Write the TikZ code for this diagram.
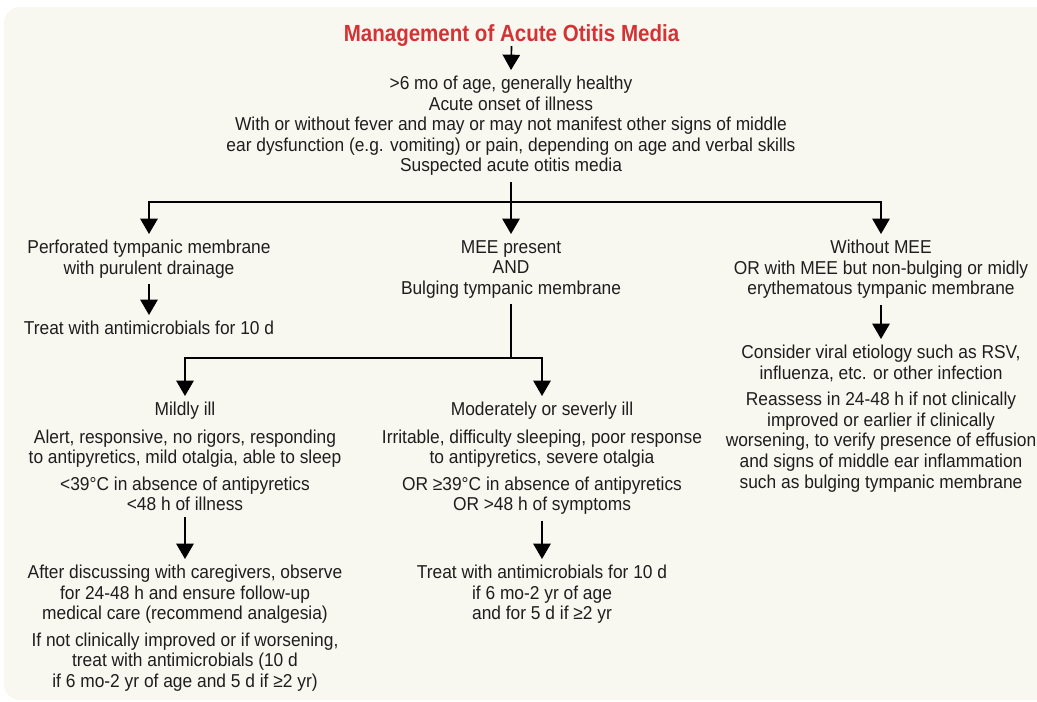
\documentclass[tikz,border=0pt]{standalone}
\usepackage{fontspec}
\setmainfont{Liberation Sans}[FakeStretch=0.93]
\newfontfamily\titlefont{Liberation Sans}[FakeStretch=0.88]
\usetikzlibrary{arrows.meta,calc}
\definecolor{aombg}{RGB}{248,247,240}
\definecolor{aomred}{RGB}{212,50,52}
\definecolor{aomtext}{RGB}{30,30,30}

\begin{document}
\begin{tikzpicture}[
    x=0.75pt, y=-0.75pt,
    txt/.style={align=center, anchor=north, inner xsep=0pt, inner ysep=4.5pt, text=aomtext, font={\fontsize{14}{15.4}\selectfont}},
    ttl/.style={anchor=base, inner sep=0pt, text=aomred, font={\titlefont\fontsize{17.5}{20}\selectfont\bfseries}},
    link/.style={line width=1.25pt, draw=black},
    arrow/.style={link, -{Triangle[width=13pt, length=11.5pt]}}
]
\useasboundingbox (0,0) rectangle (1037,701);

% ═══════════════════════════════════════════════════════════════
% Background panel
% ═══════════════════════════════════════════════════════════════
\fill[aombg, rounded corners=12pt] (4,7) rectangle (1070,700);

% ═══════════════════════════════════════════════════════════════
% Title and presentation
% ═══════════════════════════════════════════════════════════════
\node[ttl] (title) at (511.5,41) {Management of Acute Otitis Media};

\node[txt] (intro) at (511,70) {>6 mo of age, generally healthy\\Acute onset of illness\\With or without fever and may or may not manifest other signs of middle\\ear dysfunction (e.g. vomiting) or pain, depending on age and verbal skills\\Suspected acute otitis media};

\coordinate (split1) at (511,202);

% ═══════════════════════════════════════════════════════════════
% First level: three branches
% ═══════════════════════════════════════════════════════════════
\node[txt] (perf) at (149,234) {Perforated tympanic membrane\\with purulent drainage};
\node[txt] (ptreat) at (149,315) {Treat with antimicrobials for 10 d};

\node[txt] (mee) at (511,234) {MEE present\\AND\\Bulging tympanic membrane};

\node[txt] (nomee) at (881,234) {Without MEE\\OR with MEE but non-bulging or midly\\erythematous tympanic membrane};
\node[txt] (viral) at (881,339) {Consider viral etiology such as RSV,\\influenza, etc. or other infection\\[4.5pt]Reassess in 24-48 h if not clinically\\improved or earlier if clinically\\worsening, to verify presence of effusion\\and signs of middle ear inflammation\\such as bulging tympanic membrane};

\coordinate (split2) at (511,358);

% ═══════════════════════════════════════════════════════════════
% Second level: severity
% ═══════════════════════════════════════════════════════════════
\node[txt] (mild) at (185,396) {Mildly ill\\[5pt]Alert, responsive, no rigors, responding\\to antipyretics, mild otalgia, able to sleep\\[4.5pt]<39°C in absence of antipyretics\\<48 h of illness};
\node[txt] (observe) at (185,559) {After discussing with caregivers, observe\\for 24-48 h and ensure follow-up\\medical care (recommend analgesia)\\[4.5pt]If not clinically improved or if worsening,\\treat with antimicrobials (10 d\\if 6 mo-2 yr of age and 5 d if ≥2 yr)};

\node[txt] (mod) at (542,396) {Moderately or severly ill\\[5pt]Irritable, difficulty sleeping, poor response\\to antipyretics, severe otalgia\\[4.5pt]OR ≥39°C in absence of antipyretics\\OR >48 h of symptoms};
\node[txt] (mtreat) at (542,559) {Treat with antimicrobials for 10 d\\if 6 mo-2 yr of age\\and for 5 d if ≥2 yr};

% ═══════════════════════════════════════════════════════════════
% Connectors
% ═══════════════════════════════════════════════════════════════
\draw[arrow] (title.south) -- (intro.north);
\draw[link] (intro.south) -- (split1);
\draw[arrow] (split1) -| (perf.north);
\draw[arrow] (split1) -- (mee.north);
\draw[arrow] (split1) -| (nomee.north);

\draw[arrow] (perf.south) -- (ptreat.north);
\draw[arrow] (nomee.south) -- (viral.north);

\draw[link] (mee.south) -- (split2);
\draw[arrow] (split2) -| (mild.north);
\draw[arrow] (split2) -| (mod.north);

\draw[arrow] (mild.south) -- (observe.north);
\draw[arrow] (mod.south) -- (mtreat.north);

\end{tikzpicture}
\end{document}
